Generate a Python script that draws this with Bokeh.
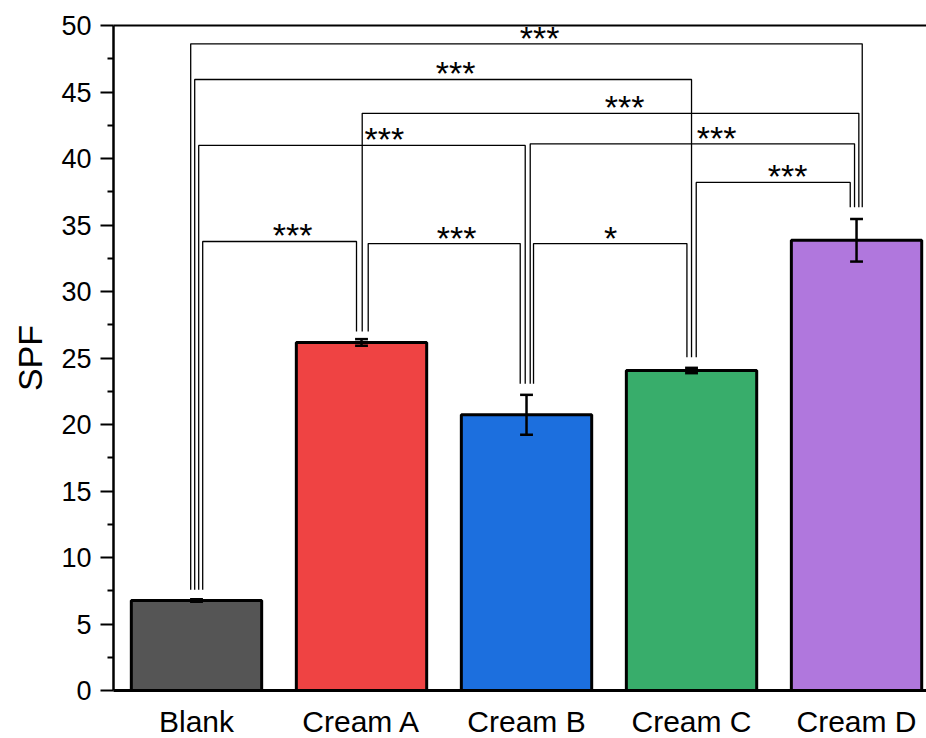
import numpy as np
from bokeh.plotting import figure
from bokeh.models import Range1d, FixedTicker, LinearAxis
from bokeh.embed import file_html
from bokeh.resources import INLINE
from bokeh.core.properties import value

# ---- data ----
categories = ["Blank", "Cream A", "Cream B", "Cream C", "Cream D"]
spf_mean = [6.77, 26.17, 20.73, 24.06, 33.85]
spf_err = [0.10, 0.25, 1.50, 0.20, 1.60]
bar_colors = ["#555555", "#EF4343", "#1C6FDE", "#38AD6B", "#B077DD"]

y_ticks = [0, 5, 10, 15, 20, 25, 30, 35, 40, 45, 50]

# significance brackets (pairs of category indices)
sig_from = [0, 0, 1, 0, 2, 3, 0, 1, 2]
sig_to = [4, 3, 4, 2, 4, 4, 1, 2, 3]
sig_level = [48.62, 45.94, 43.40, 40.98, 41.10, 38.20, 33.76, 33.60, 33.60]
sig_text = ["***", "***", "***", "***", "***", "***", "***", "***", "*"]
sig_text_x = [2.079, 1.570, 2.594, 1.139, 3.152, 3.582, 0.582, 1.576, 2.509]
leg_base = [7.57, 27.0, 23.06, 25.06, 36.34]

# ---- layout constants ----
FONT = "Liberation Sans"
PX_PER_CAT = 165.0
leg_dx_from = [-5.8, -1.8, 0.7, 2.2, 3.7, 4.7, 6.2, 6.7, 7.0]   # pixels
leg_dx_to = [5.7, 0.0, 2.3, -1.3, -2.0, -6.3, -5.0, -6.3, -4.6]  # pixels

xpos = list(range(len(categories)))

p = figure(frame_width=813, frame_height=665,
           x_range=Range1d(-0.503, 4.424), y_range=Range1d(0, 50),
           output_backend="svg", toolbar_location=None,
           min_border_left=113, min_border_right=0, min_border_top=25,
           min_border_bottom=0)
p.outline_line_color = None
p.grid.visible = False
p.background_fill_color = "white"
p.border_fill_color = "white"

# x axis
xa = p.xaxis[0]
xa.ticker = FixedTicker(ticks=xpos)
xa.major_label_overrides = {i: c for i, c in enumerate(categories)}
xa.major_tick_line_color = None
xa.minor_tick_line_color = None
xa.major_tick_out = 0
xa.major_tick_in = 0
xa.axis_line_width = 3
xa.axis_line_color = "black"
xa.major_label_text_font = FONT
xa.major_label_text_font_size = "30px"
xa.major_label_text_color = "black"
xa.major_label_standoff = 14

# top frame line
top = LinearAxis(ticker=FixedTicker(ticks=[]), axis_line_width=2,
                 axis_line_color="black", major_tick_line_color=None,
                 minor_tick_line_color=None, major_label_text_font_size="0px",
                 major_tick_out=0, major_tick_in=0, minor_tick_out=0,
                 minor_tick_in=0, major_label_standoff=0)
p.add_layout(top, "above")

# y axis
ya = p.yaxis[0]
ya.ticker = FixedTicker(ticks=y_ticks, minor_ticks=[t + 2.5 for t in y_ticks[:-1]])
ya.axis_line_width = 2.5
ya.axis_line_color = "black"
ya.major_tick_line_width = 2
ya.major_tick_line_color = "black"
ya.major_tick_out = 13
ya.major_tick_in = 0
ya.minor_tick_line_width = 2
ya.minor_tick_line_color = "black"
ya.minor_tick_out = 6
ya.minor_tick_in = 0
ya.major_label_text_font = FONT
ya.major_label_text_font_size = "27px"
ya.major_label_text_color = "black"
ya.major_label_standoff = 9
ya.axis_label = "SPF"
ya.axis_label_text_font = FONT
ya.axis_label_text_font_size = "34px"
ya.axis_label_text_font_style = "normal"
ya.axis_label_text_color = "black"
ya.axis_label_standoff = 9

# bars
p.vbar(x=xpos, top=spf_mean, bottom=0, width=0.79,
       fill_color=bar_colors, line_color="black", line_width=3)

# error bars
cap = 0.039
lo = [m - e for m, e in zip(spf_mean, spf_err)]
hi = [m + e for m, e in zip(spf_mean, spf_err)]
p.segment(x0=xpos, y0=lo, x1=xpos, y1=hi, line_color="black", line_width=2.5)
p.segment(x0=[x - cap for x in xpos], y0=hi, x1=[x + cap for x in xpos], y1=hi,
          line_color="black", line_width=2.5)
p.segment(x0=[x - cap for x in xpos], y0=lo, x1=[x + cap for x in xpos], y1=lo,
          line_color="black", line_width=2.5)

# significance brackets
bx, by = [], []
for a, b, lvl, da, db in zip(sig_from, sig_to, sig_level, leg_dx_from, leg_dx_to):
    xa_ = a + da / PX_PER_CAT
    xb_ = b + db / PX_PER_CAT
    bx.append([xa_, xa_, xb_, xb_])
    by.append([leg_base[a], lvl, lvl, leg_base[b]])
p.multi_line(xs=bx, ys=by, line_color="black", line_width=1.3)

p.text(x=sig_text_x, y=sig_level, text=sig_text,
       text_font=value(FONT), text_font_size="34px", text_color="black",
       text_align="center", text_baseline="alphabetic", y_offset=-6)

open("out.html", "w").write(file_html(p, INLINE))
